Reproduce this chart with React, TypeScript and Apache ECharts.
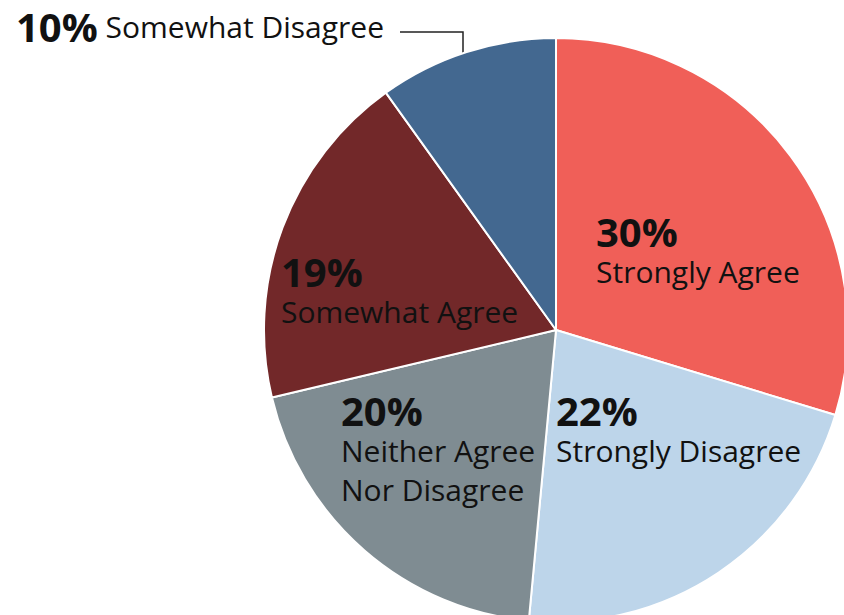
import React, { useEffect, useRef } from "react";
import * as echarts from "echarts";

const categories = [
  "Strongly Agree",
  "Strongly Disagree",
  "Neither Agree\nNor Disagree",
  "Somewhat Agree",
  "Somewhat Disagree",
];
const values = [30, 22, 20, 19, 10];
const colors = ["#F05F58", "#BDD5EA", "#7F8C92", "#722829", "#436890"];
// label anchors (top-left of each label block)
const labelAnchors = [
  [596, 210],
  [556, 389],
  [341, 389],
  [281, 250],
  [16, 5],
];

export default function App() {
  const ref = useRef<HTMLDivElement>(null);
  useEffect(() => {
    const chart = echarts.init(ref.current!, null, { renderer: "svg" });
    const font = "'Open Sans', 'Noto Sans', sans-serif";
    chart.setOption({
      animation: false,
      backgroundColor: "#ffffff",
      series: [
        {
          type: "pie",
          center: [556, 330],
          radius: 292,
          startAngle: 90,
          clockwise: true,
          avoidLabelOverlap: false,
          itemStyle: { borderColor: "#ffffff", borderWidth: 2 },
          label: {
            show: true,
            position: "inside",
            align: "left",
            verticalAlign: "top",
            fontFamily: font,
            color: "#111111",
            formatter: (p: any) => `{p|${p.value}%}\n{n|${p.name}}`,
            rich: {
              p: { fontFamily: font, fontSize: 40, fontWeight: "bold", lineHeight: 42, color: "#111111" },
              n: { fontFamily: font, fontSize: 30, lineHeight: 39, color: "#111111" },
            },
          },
          labelLayout: (params: any) => {
            const a = labelAnchors[params.dataIndex];
            const o: any = { x: a[0], y: a[1], align: "left", verticalAlign: "top" };
            if (params.dataIndex === 4) {
              o.labelLinePoints = [
                [463, 56],
                [463, 32],
                [400, 32],
              ];
            }
            return o;
          },
          data: values.map((v, i) => ({
            value: v,
            name: categories[i],
            itemStyle: { color: colors[i] },
            ...(i === 4
              ? {
                  label: {
                    position: "outside",
                    formatter: (p: any) => `{p|${p.value}%}{n| ${p.name}}`,
                  },
                  labelLine: { show: true, lineStyle: { color: "#222222", width: 1.5 } },
                }
              : { labelLine: { show: false } }),
          })),
        },
      ],
    });
    return () => chart.dispose();
  }, []);
  return (
    <div
      ref={ref}
      style={{ position: "fixed", left: 0, top: 0, width: 844, height: 615 }}
    />
  );
}
